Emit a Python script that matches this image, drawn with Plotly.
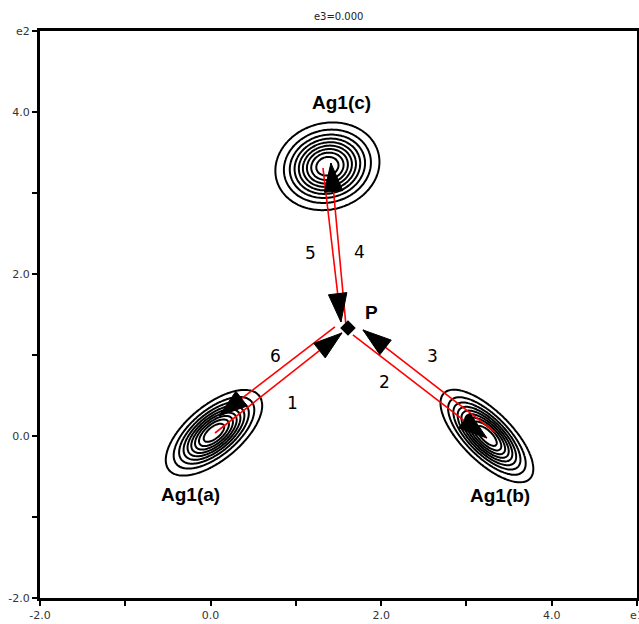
import numpy as np
import plotly.graph_objects as go

# ---- data ----
# atom density peaks (data coordinates)
atom_names = ["Ag1(a)", "Ag1(b)", "Ag1(c)"]
atom_x = [0.04, 3.24, 1.37]
atom_y = [0.04, 0.00, 3.33]
atom_major = [0.70, 0.73, 0.62]   # half extent of outermost contour, major axis
atom_minor = [0.33, 0.30, 0.53]   # half extent of outermost contour, minor axis
atom_angle = [42, -47, 20]        # orientation of major axis (deg)
atom_label_x = [-0.24, 3.39, 1.53]
atom_label_y = [-0.72, -0.74, 4.12]

contour_start, contour_end, contour_step = 0.1, 0.9, 0.1

# critical point P
p_x = [1.611]
p_y = [1.333]
p_label_x = [1.89]
p_label_y = [1.52]

# bond paths (start -> end, arrowhead at end)
path_labels = ["1", "2", "3", "4", "5", "6"]
path_x0 = [0.052, 1.669, 3.334, 1.587, 1.318, 1.458]
path_y0 = [0.037, 1.247, 0.049, 1.370, 3.309, 1.346]
path_x1 = [1.540, 3.240, 1.787, 1.411, 1.529, 0.098]
path_y1 = [1.272, -0.025, 1.309, 3.370, 1.407, 0.247]
path_label_x = [0.966, 2.045, 2.607, 1.751, 1.177, 0.767]
path_label_y = [0.407, 0.667, 0.988, 2.272, 2.259, 0.988]

x_tickvals = [-2, -1, 0, 1, 2, 3, 4, 5]
x_ticktext = ["-2.0", "", "0.0", "", "2.0", "", "4.0", "e1"]
y_tickvals = [-2, -1, 0, 1, 2, 3, 4, 5]
y_ticktext = ["-2.0", "", "0.0", "", "2.0", "", "4.0", "e2"]

# ---- density model on a grid ----
gx = np.linspace(-2, 5, 351)
gy = np.linspace(-2, 5, 351)
X, Y = np.meshgrid(gx, gy)
Z = np.zeros_like(X)
k = np.sqrt(-np.log(contour_start))
for cx, cy, A, B, ang in zip(atom_x, atom_y, atom_major, atom_minor, atom_angle):
    t = np.deg2rad(ang)
    u = (X - cx) * np.cos(t) + (Y - cy) * np.sin(t)
    v = -(X - cx) * np.sin(t) + (Y - cy) * np.cos(t)
    Z += np.exp(-((u / (A / k)) ** 2 + (v / (B / k)) ** 2))

fig = go.Figure()
fig.add_trace(go.Contour(
    x=gx, y=gy, z=Z,
    contours=dict(start=contour_start, end=contour_end, size=contour_step, coloring="lines"),
    colorscale=[[0, "black"], [1, "black"]],
    line=dict(width=2),
    showscale=False, hoverinfo="skip",
))

for i in range(len(path_labels)):
    fig.add_trace(go.Scatter(
        x=[path_x0[i], path_x1[i]], y=[path_y0[i], path_y1[i]],
        mode="lines", line=dict(color="#ff0000", width=1.6),
        hoverinfo="skip", showlegend=False,
    ))
for i in range(len(path_labels)):
    fig.add_trace(go.Scatter(
        x=[path_x0[i], path_x1[i]], y=[path_y0[i], path_y1[i]],
        mode="markers",
        marker=dict(symbol="arrow", size=[0, 30], color="black", angleref="previous",
                    opacity=1, line=dict(width=1, color="black")),
        hoverinfo="skip", showlegend=False,
    ))

fig.add_trace(go.Scatter(
    x=p_x, y=p_y, mode="markers",
    marker=dict(symbol="diamond", size=12, color="black"),
    hoverinfo="skip", showlegend=False,
))

for name, lx, ly in zip(atom_names, atom_label_x, atom_label_y):
    fig.add_annotation(x=lx, y=ly, text="<b>%s</b>" % name, showarrow=False,
                       font=dict(family="Liberation Sans, Arial", size=19, color="black"))
fig.add_annotation(x=p_label_x[0], y=p_label_y[0], text="<b>P</b>", showarrow=False,
                   font=dict(family="Liberation Sans, Arial", size=19, color="black"))
for t, lx, ly in zip(path_labels, path_label_x, path_label_y):
    fig.add_annotation(x=lx, y=ly, text=t, showarrow=False,
                       font=dict(family="DejaVu Sans", size=17, color="black"))

axis_common = dict(
    range=[-2, 5], showgrid=False, zeroline=False,
    showline=True, linewidth=3, linecolor="black", mirror=True,
    ticks="outside", ticklen=5, tickwidth=1.5, tickcolor="black",
    tickfont=dict(family="DejaVu Sans", size=11, color="#333"),
    automargin=False, ticklabeloverflow="allow",
)
fig.update_xaxes(tickvals=x_tickvals, ticktext=x_ticktext, **axis_common)
fig.update_yaxes(tickvals=y_tickvals, ticktext=y_ticktext, **axis_common)

fig.update_layout(
    width=639, height=624,
    margin=dict(l=40, r=2, t=31, b=26),
    paper_bgcolor="white", plot_bgcolor="white",
    showlegend=False,
    title=dict(text="e3=0.000", x=0.53, xanchor="center", y=(624 - 16) / 624, yanchor="middle",
               font=dict(family="DejaVu Sans", size=10, color="#222")),
)

fig.write_html("out.html", config={"displayModeBar": False},
               post_script="document.body.style.margin='0';")
